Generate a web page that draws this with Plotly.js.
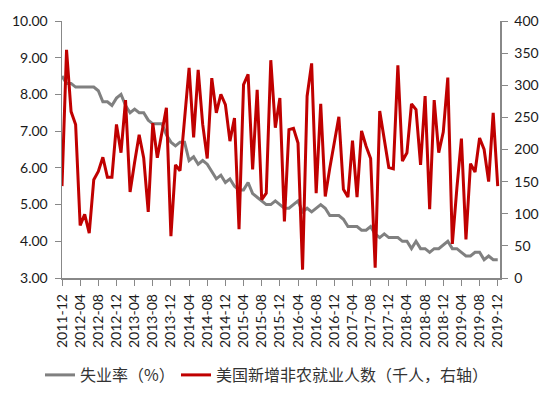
<!DOCTYPE html>
<html>
<head>
<meta charset="utf-8">
<script src="https://cdn.plot.ly/plotly-3.0.1.min.js"></script>
<style>
html,body{margin:0;padding:0;background:#fff;}
#chart{width:550px;height:393px;}
</style>
</head>
<body>
<div id="chart"></div>
<script>
// Monthly categories 2011-12 .. 2019-12
const startYear = 2011, startMonth = 12, monthCount = 97;
const months = [];
for (let k = 0; k < monthCount; k++) {
  const m0 = startMonth - 1 + k;
  const y = startYear + Math.floor(m0 / 12);
  const m = (m0 % 12) + 1;
  months.push(y + "-" + (m < 10 ? "0" + m : m));
}

const tickLabels = ["2011-12","2012-04","2012-08","2012-12","2013-04","2013-08","2013-12",
  "2014-04","2014-08","2014-12","2015-04","2015-08","2015-12","2016-04","2016-08","2016-12",
  "2017-04","2017-08","2017-12","2018-04","2018-08","2018-12","2019-04","2019-08","2019-12"];

// Unemployment rate (%), left axis
const unemployment = [
  8.5,
  8.3,8.3,8.2,8.2,8.2,8.2,8.2,8.1,7.8,7.8,7.7,7.9,
  8.0,7.7,7.5,7.6,7.5,7.5,7.3,7.2,7.2,7.2,6.9,6.7,
  6.6,6.7,6.7,6.2,6.3,6.1,6.2,6.1,5.9,5.7,5.8,5.6,
  5.7,5.5,5.4,5.4,5.6,5.3,5.2,5.1,5.0,5.0,5.1,5.0,
  4.9,4.9,5.0,5.1,4.8,4.9,4.8,4.9,5.0,4.9,4.7,4.7,
  4.7,4.6,4.4,4.4,4.4,4.3,4.3,4.4,4.2,4.1,4.2,4.1,
  4.1,4.1,4.0,4.0,3.8,4.0,3.8,3.8,3.7,3.8,3.8,3.9,
  4.0,3.8,3.8,3.7,3.6,3.6,3.7,3.7,3.5,3.6,3.5,3.5
];

// US nonfarm payroll additions (thousand, right axis)
const payrolls = [
  143,
  355,259,239,82,99,70,153,166,188,157,157,239,
  195,277,134,180,223,187,103,241,187,226,265,65,
  176,167,249,327,219,324,239,186,311,257,286,270,
  213,249,76,301,317,169,293,122,132,339,234,280,
  88,231,233,210,13,283,334,132,271,127,171,210,
  251,138,126,214,126,229,205,186,16,260,215,172,
  170,331,182,195,271,262,176,283,107,277,195,227,
  312,53,140,217,60,178,165,218,200,150,257,143
];

const seriesNames = ["失业率（%）", "美国新增非农就业人数（千人，右轴）"];

const traces = [
  {
    x: months, y: unemployment, name: seriesNames[0],
    type: "scatter", mode: "lines",
    line: {color: "#808080", width: 3},
    yaxis: "y", legend: "legend"
  },
  {
    x: months, y: payrolls, name: seriesNames[1],
    type: "scatter", mode: "lines",
    line: {color: "#C00000", width: 3},
    yaxis: "y2", legend: "legend2"
  }
];

const tickFont = {family: "Lato, 'Liberation Sans', sans-serif", size: 14, color: "#1a1a1a"};
const legendFont = {family: "'Noto Sans CJK SC', sans-serif", size: 16, color: "#333333"};
const legendY = 18 / 393;

const layout = {
  width: 550, height: 393,
  margin: {l: 62, r: 50, t: 21, b: 115, pad: 0},
  paper_bgcolor: "#ffffff", plot_bgcolor: "#ffffff",
  showlegend: true,
  legend: {
    orientation: "h", xref: "container", yref: "container",
    x: 40 / 550, xanchor: "left", y: legendY, yanchor: "middle",
    font: legendFont, itemwidth: 30, bgcolor: "rgba(0,0,0,0)"
  },
  legend2: {
    orientation: "h", xref: "container", yref: "container",
    x: 176 / 550, xanchor: "left", y: legendY, yanchor: "middle",
    font: legendFont, itemwidth: 30, bgcolor: "rgba(0,0,0,0)"
  },
  xaxis: {
    type: "category",
    range: [0, 96.5],
    tickmode: "array", tickvals: tickLabels, ticktext: tickLabels,
    tickangle: -90,
    ticks: "outside", ticklen: 6, tickcolor: "#888888", tickwidth: 1,
    showline: true, linecolor: "#888888", linewidth: 1.5,
    showgrid: false, zeroline: false,
    tickfont: tickFont, ticklabelstandoff: 3
  },
  yaxis: {
    range: [3, 10], dtick: 1, tick0: 3, tickformat: ".2f",
    ticks: "outside", ticklen: 6, tickcolor: "#888888", tickwidth: 1,
    showline: true, linecolor: "#888888", linewidth: 1.5,
    showgrid: false, zeroline: false,
    tickfont: tickFont, ticklabelstandoff: 4
  },
  yaxis2: {
    overlaying: "y", side: "right",
    range: [0, 400], dtick: 50, tick0: 0,
    ticks: "outside", ticklen: 6, tickcolor: "#888888", tickwidth: 1,
    showline: true, linecolor: "#888888", linewidth: 1.5,
    showgrid: false, zeroline: false,
    tickfont: tickFont, ticklabelstandoff: 4
  }
};

Plotly.newPlot("chart", traces, layout, {displayModeBar: false, staticPlot: true});
</script>
</body>
</html>
